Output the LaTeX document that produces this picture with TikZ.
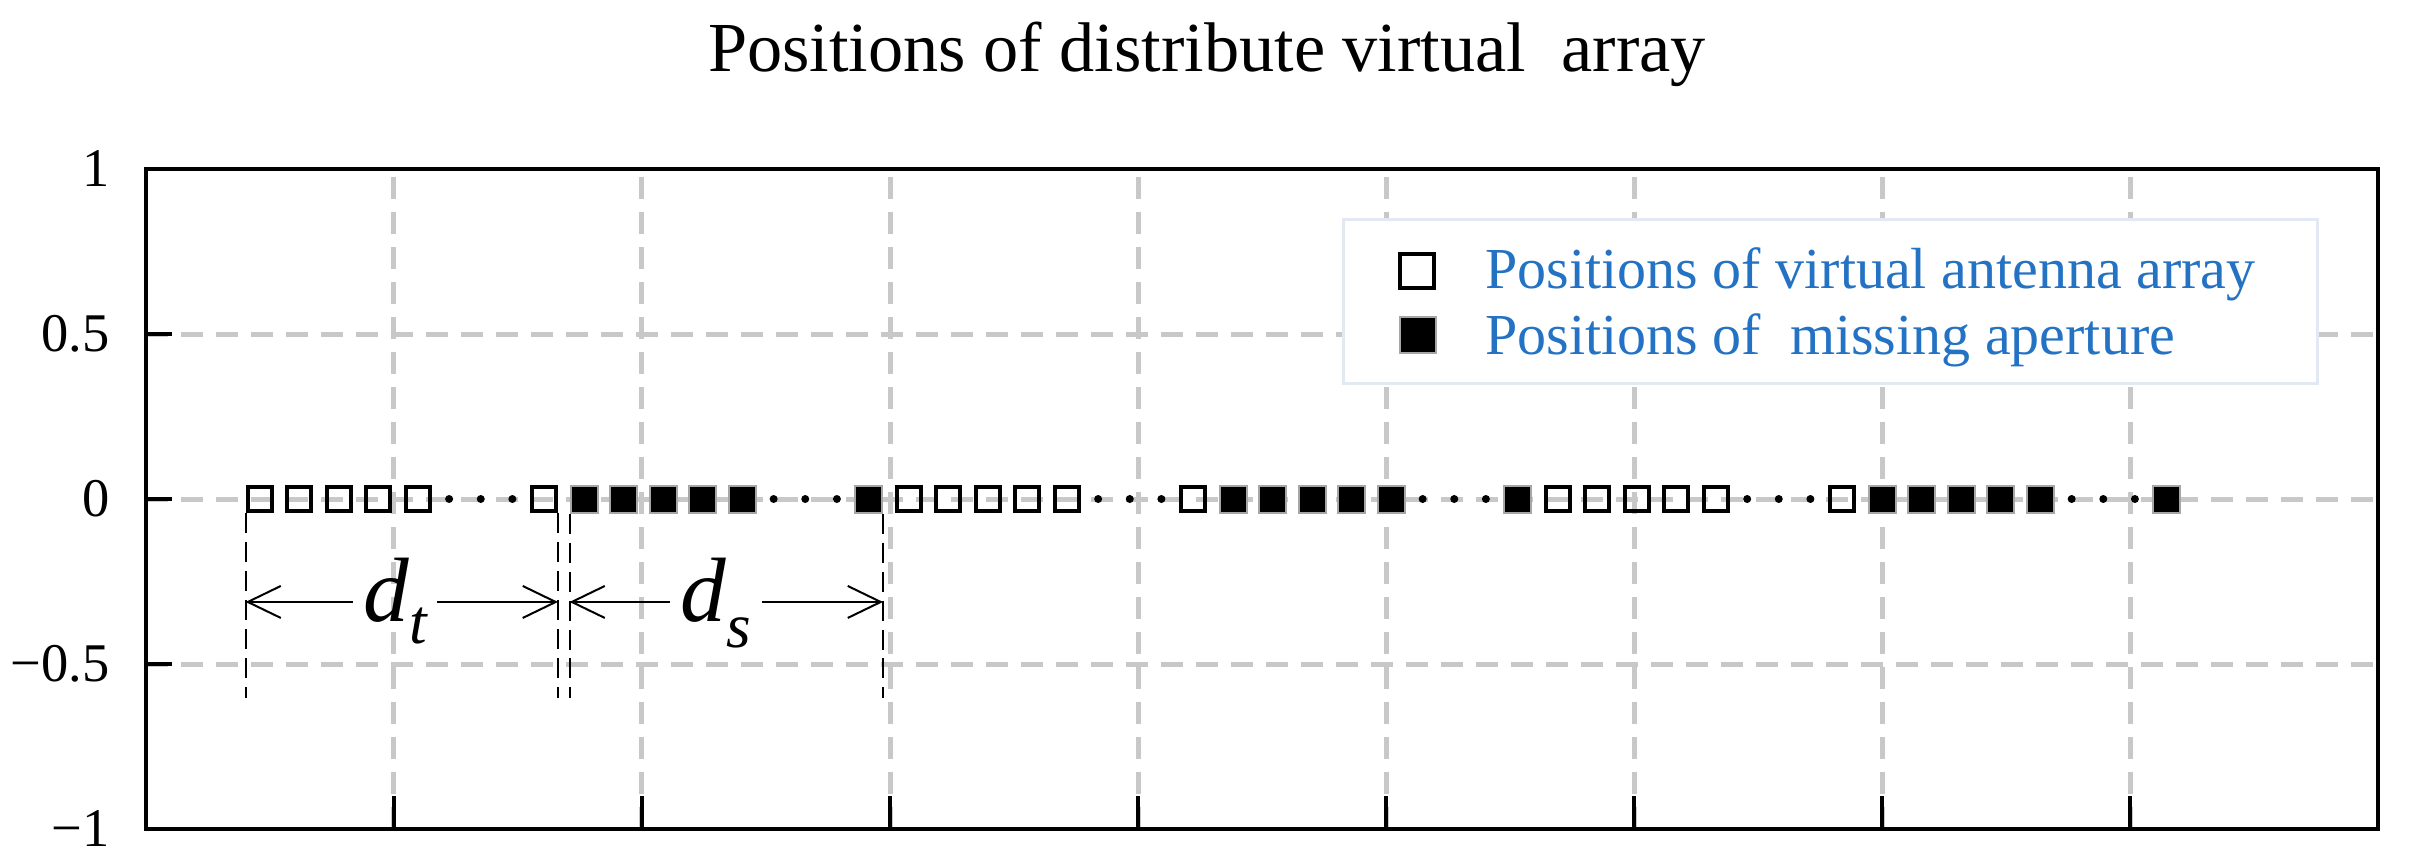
\documentclass[tikz,border=0pt]{standalone}
\usepackage{fontspec}
\setmainfont{Liberation Serif}
\usepackage{tikz}
\usepackage{xcolor}
\usetikzlibrary{arrows.meta}
\usetikzlibrary{positioning}

\definecolor{gridgray}{RGB}{200,200,200}
\definecolor{legblue}{RGB}{36,114,196}
\definecolor{legframe}{RGB}{226,233,244}

\tikzset{
  gridline/.style={gridgray, line width=0.05cm, dash pattern=on 0.22cm off 0.13cm},
  axisline/.style={black, line width=0.04cm},
  opensq/.style={rectangle, draw=black, line width=0.04cm, minimum size=0.24cm, inner sep=0},
  fullsq/.style={rectangle, draw=gray!70, fill=black, line width=0.02cm, minimum size=0.27cm, inner sep=0},
  gapdot/.style={circle, fill=black, inner sep=0, minimum size=0.08cm},
  dimline/.style={black, line width=0.02cm, dash pattern=on 0.2cm off 0.09cm},
  dimarrow/.style={black, line width=0.02cm, -{Straight Barb[length=0.33cm,width=0.32cm]}},
  dimlabel/.style={inner ysep=0, inner xsep=0.1cm, anchor=base},
  ticklabel/.style={font=\fontsize{15.5}{18}\selectfont, anchor=east, inner sep=0},
  legtext/.style={font=\fontsize{16.5}{20}\selectfont, text=legblue, anchor=base west, inner sep=0},
}

\begin{document}
\begin{tikzpicture}[x=2.48cm, y=3.3cm]
\useasboundingbox (-0.5887,-1.1121) rectangle (9.1492,1.5121);
% grid
\foreach \i in {1,...,8}
  \draw[gridline] (\i,-1) -- (\i,1);
\foreach \j in {-0.5,0,0.5}
  \draw[gridline] (0,\j) -- (9,\j);
% axes box and ticks
\draw[axisline] (0,-1) rectangle (9,1);
\foreach \i in {1,...,8}
  \draw[axisline] (\i,-1) -- ++(0,0.33cm);
\foreach \j in {-0.5,0,0.5}
  \draw[axisline] (0,\j) -- ++(0.26cm,0);
\foreach \j/\lab/\n in {1/1/a, 0.5/0.5/b, 0/0/c, -0.5/{−0.5}/d, -1/{−1}/e}
  \node[ticklabel] (ylab-\n) at (-0.145,\j) {\lab};
% title
\node[font=\fontsize{20}{24}\selectfont, anchor=base] (title) at (4.278,1.294) {Positions of distribute virtual\ \ array};
% legend
\node[draw=legframe, line width=0.03cm, fill=white, minimum width=9.74cm, minimum height=1.64cm, inner sep=0] (legend) at (6.794,0.597) {};
\node[opensq, minimum size=0.34cm] (legopen) at (5.125,0.691) {};
\node[fullsq, minimum size=0.36cm] (legfull) at (5.129,0.497) {};
\node[legtext] (legtxt1) at (5.399,0.639) {Positions of virtual antenna array};
\node[legtext] (legtxt2) at (5.399,0.439) {Positions of\ \ missing aperture};
% array positions
\foreach \gi/\kind in {0/opensq,1/fullsq,2/opensq,3/fullsq,4/opensq,5/fullsq} {
  \pgfmathsetmacro{\xs}{0.4577+1.3085*\gi}
  \foreach \ki in {0,...,4}
    \node[\kind] (m\gi-\ki) at (\xs+0.1593*\ki,0) {};
  \foreach \dd in {1,2,3}
    \node[gapdot] (dot\gi-\dd) at (\xs+0.6371+0.1275*\dd,0) {};
  \node[\kind] (m\gi-5) at (\xs+1.1472,0) {};
}
% spacing marks
\coordinate (row) at (0,-0.312);
\coordinate (foot) at (0,-0.603);
\foreach \n/\a in {m0-0/south west, m0-5/south east, m1-0/south west, m1-5/south east}
  \draw[dimline] (\n.\a) -- (\n.\a |- foot);
\node[dimlabel] (dt) at (1.004,-0.370) {{\fontsize{26}{26}\selectfont\itshape d}\raisebox{-0.22cm}{\fontsize{18}{18}\selectfont\itshape t}};
\node[dimlabel] (ds) at (2.298,-0.370) {{\fontsize{26}{26}\selectfont\itshape d}\raisebox{-0.26cm}{\fontsize{18}{18}\selectfont\itshape s}};
\draw[dimarrow] (dt.west |- row) -- (m0-0.south west |- row);
\draw[dimarrow] (dt.east |- row) -- (m0-5.south east |- row);
\draw[dimarrow] (ds.west |- row) -- (m1-0.south west |- row);
\draw[dimarrow] (ds.east |- row) -- (m1-5.south east |- row);
\end{tikzpicture}
\end{document}
